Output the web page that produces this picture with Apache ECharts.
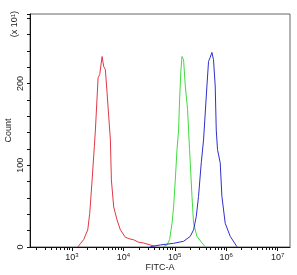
<!DOCTYPE html>
<html>
<head>
<meta charset="utf-8">
<script src="https://cdn.jsdelivr.net/npm/echarts@6/dist/echarts.min.js"></script>
<style>
  html, body { margin: 0; padding: 0; background: #fff; }
  #chart { width: 297px; height: 275px; }
</style>
</head>
<body>
<div id="chart"></div>
<script>
// FITC-A intensity (raw) and count (x10^1)
var redX   = [1300, 1460, 1690, 2030, 2220, 2470, 2730, 2860, 3230, 3470, 3860, 4140, 4470, 4820, 5190, 5600, 5850, 6490, 7550, 8750, 10900, 13000, 15600, 19500, 24400, 33400, 41800];
var redY   = [0, 4, 9, 21, 41, 82, 123, 143, 207, 211, 233, 221, 217, 189, 160, 131, 82, 49, 33, 21, 12, 10, 9, 6, 5, 2.5, 0.5];
var greenX = [60000, 70600, 79300, 88300, 94900, 102300, 110400, 118600, 124000, 131000, 138000, 148300, 160000, 177400, 185400, 193800, 200000, 215800, 231800, 269800, 337500, 391000];
var greenY = [0.5, 2.5, 9, 29, 49, 82, 119, 143, 180, 214, 233, 229, 197, 168, 143, 119, 103, 62, 29, 13, 5, 0.4];
var blueX  = [33400, 52200, 94900, 148300, 200000, 231800, 261300, 289600, 327000, 362500, 421700, 453000, 488500, 527000, 566000, 611000, 640000, 677600, 764000, 824000, 956000, 1196000, 1615000];
var blueY  = [0.4, 2.5, 4.5, 7, 13, 21, 37, 62, 103, 131, 197, 227, 232, 238, 229, 197, 143, 119, 103, 62, 29, 13, 0.4];

var xMajor = [3, 4, 5, 6, 7];          // decades with labels
var yMax = 285;

function pairs(xs, ys) {
  return xs.map(function (x, i) { return [Math.log10(x), ys[i]]; });
}

var xMinor = [];
[2, 3, 4, 5, 6, 7].forEach(function (d) {
  for (var k = 2; k <= 9; k++) {
    var v = Math.log10(k) + d;
    if (v > 2.185 && v < 7.24) xMinor.push(v);
  }
});

var chart = echarts.init(document.getElementById('chart'));
var font = 'Liberation Sans';

chart.setOption({
  animation: false,
  grid: {
    left: 30, right: 7, top: 14, bottom: 28,
    outerBoundsMode: 'none', containLabel: false,
    show: true, borderColor: '#666', borderWidth: 1
  },
  xAxis: [{
    type: 'value', min: 2.185, max: 7.24,
    name: 'FITC-A', nameLocation: 'middle', nameGap: 16, nameMoveOverlap: false,
    nameTextStyle: { fontFamily: font, fontSize: 9, color: '#222' },
    axisLine: { lineStyle: { color: '#111' } },
    splitLine: { show: false },
    axisTick: { customValues: xMajor, length: 4, lineStyle: { color: '#111' } },
    axisLabel: {
      customValues: xMajor, margin: 5,
      fontFamily: font, fontSize: 9, color: '#222',
      formatter: function (v) { return '10{s|' + Math.round(v) + '}'; },
      rich: { s: { fontSize: 6, verticalAlign: 'top', padding: [0, 0, 5, 0], fontFamily: font, color: '#222' } }
    }
  }, {
    type: 'value', min: 2.185, max: 7.24, position: 'bottom',
    axisLine: { show: false }, splitLine: { show: false },
    axisLabel: { show: false },
    axisTick: { customValues: xMinor, length: 3, lineStyle: { color: '#111' } }
  }],
  yAxis: {
    type: 'value', min: 0, max: yMax, interval: 20,
    name: 'Count', nameLocation: 'middle', nameGap: 17, nameMoveOverlap: false,
    nameTextStyle: { fontFamily: font, fontSize: 9, color: '#222' },
    axisLine: { show: true, lineStyle: { color: '#111' } },
    splitLine: { show: false },
    axisTick: { length: 3, lineStyle: { color: '#111' } },
    axisLabel: {
      rotate: 90, margin: 5, fontFamily: font, fontSize: 9, color: '#222',
      formatter: function (v) { return v % 100 === 0 ? String(v) : ''; }
    }
  },
  graphic: [{
    type: 'text', left: 10, top: 11, rotation: Math.PI / 2,
    style: {
      text: '(x 10{s|1})', fontFamily: font, fontSize: 9, fill: '#222',
      rich: { s: { fontSize: 6, verticalAlign: 'top', fontFamily: font, fill: '#222' } }
    }
  }],
  series: [
    { type: 'line', data: pairs(redX, redY), showSymbol: false, lineStyle: { color: '#e03844', width: 1 } },
    { type: 'line', data: pairs(greenX, greenY), showSymbol: false, lineStyle: { color: '#3fdc3f', width: 1 } },
    { type: 'line', data: pairs(blueX, blueY), showSymbol: false, lineStyle: { color: '#3030cc', width: 1 } }
  ]
});
</script>
</body>
</html>
